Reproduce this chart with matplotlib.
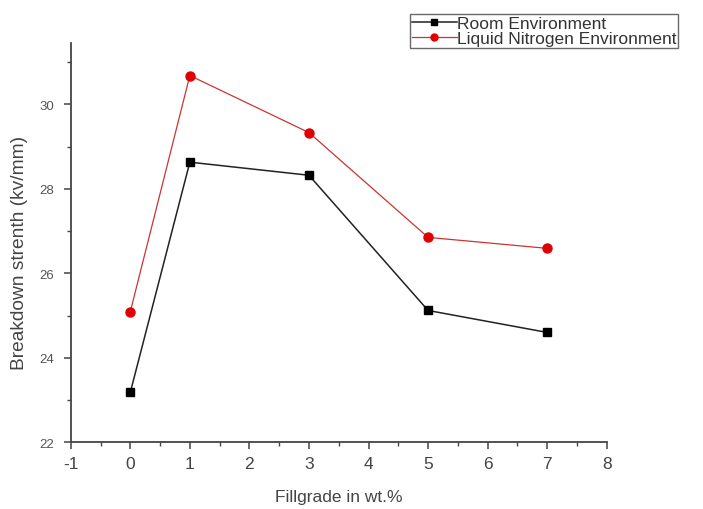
import matplotlib
matplotlib.use('Agg')
import matplotlib.pyplot as plt
from matplotlib.ticker import MultipleLocator

# Data
fillgrade = [0, 1, 3, 5, 7]
room_env = [23.18, 28.63, 28.32, 25.12, 24.6]
nitrogen_env = [25.09, 30.68, 29.33, 26.85, 26.59]

plt.rcParams['font.family'] = ['Liberation Sans', 'DejaVu Sans']
plt.rcParams['axes.unicode_minus'] = False

fig = plt.figure(figsize=(7.03, 5.10), dpi=100)
ax = fig.add_axes([0.1006, 0.1308, 0.7625, 0.7829])

ax.plot(fillgrade, room_env, color='#222222', lw=1.1, marker='s', ms=6,
        mfc='black', mec='black', label='Room Environment')
ax.plot(fillgrade, nitrogen_env, color='#cc3333', lw=0.9, marker='o', ms=6.5,
        mfc='#e00000', mec='#e00000', label='Liquid Nitrogen Environment')

ax.set_xlim(-1, 8)
ax.set_ylim(22, 31.45)
ax.xaxis.set_major_locator(MultipleLocator(1))
ax.xaxis.set_minor_locator(MultipleLocator(0.5))
ax.yaxis.set_major_locator(MultipleLocator(2))
ax.yaxis.set_minor_locator(MultipleLocator(1))

for side in ['top', 'right']:
    ax.spines[side].set_visible(False)
for side in ['left', 'bottom']:
    ax.spines[side].set_color('#444444')
    ax.spines[side].set_linewidth(1.3)

ax.tick_params(axis='both', which='major', direction='out', length=5, width=1.1, color='#444444')
ax.tick_params(axis='both', which='minor', direction='out', length=3, width=1.0, color='#444444')
ax.tick_params(axis='x', labelsize=12.5, labelcolor='#444444', pad=5)
ax.tick_params(axis='y', labelsize=9.5, labelcolor='#555555', pad=7)

ax.set_xlabel('Fillgrade in wt.%', fontsize=12.5, color='#444444', labelpad=13)
ax.set_ylabel('Breakdown strenth (kv/mm)', fontsize=13.8, color='#444444')
ax.yaxis.set_label_coords(-0.08, 0.477)

leg = ax.legend(loc='upper left', bbox_to_anchor=(410 / 703, 1 - 15 / 510),
                bbox_transform=fig.transFigure, fontsize=12.5, frameon=True,
                fancybox=False, handlelength=2.6, handletextpad=0.0,
                borderpad=0.1, labelspacing=0.0, borderaxespad=0)
leg.get_frame().set_edgecolor('#444444')
leg.get_frame().set_linewidth(1.0)
for h in leg.legend_handles:
    h.set_markersize(5)
for t in leg.get_texts():
    t.set_color('#333333')

fig.savefig('out.png', dpi=100)
